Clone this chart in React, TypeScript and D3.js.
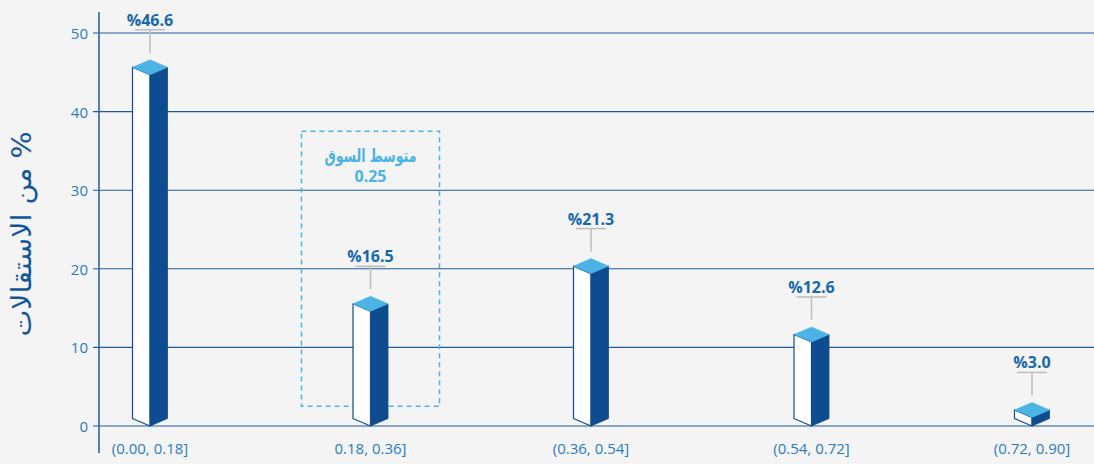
import React from "react";
import * as d3 from "d3";

const categories = ["(0.00, 0.18]", "0.18, 0.36]", "(0.36, 0.54]", "(0.54, 0.72]", "(0.72, 0.90]"];
const values = [46.6, 16.5, 21.3, 12.6, 3.0];
const yTicks = [0, 10, 20, 30, 40, 50];
const yTitle = "% من الاستقالات";
const marketLabel = "متوسط السوق";
const marketValue = "0.25";
const marketCategory = "0.18, 0.36]";

const W = 1094;
const H = 464;

export default function App() {
  const y = d3.scaleLinear().domain([0, 50]).range([426, 33]);
  const x = d3.scalePoint<string>().domain(categories).range([150, 1032]);
  const hw = 17.5;
  const dy = 7.5;
  const base = y(0);
  const dark = "#0f4c8f";
  const light = "#4cb3e5";
  const gridColor = "#1f5b9c";
  const tickColor = "#2b7bbf";
  const labelColor = "#1767ad";
  const font = "'Open Sans', 'DejaVu Sans', sans-serif";
  const arFont = "'DejaVu Sans', 'Noto Sans', sans-serif";

  const mx = x(marketCategory) as number;

  return (
    <svg
      width={W}
      height={H}
      style={{ position: "absolute", left: 0, top: 0, display: "block" }}
    >
      <rect x={0} y={0} width={W} height={H} fill="#f4f4f4" />
      {/* gridlines */}
      {yTicks.map((t) => (
        <g key={t}>
          <line x1={93} x2={W} y1={y(t)} y2={y(t)} stroke={gridColor} strokeWidth={1.1} />
          <text
            x={88}
            y={y(t)}
            textAnchor="end"
            dominantBaseline="central"
            fontFamily={font}
            fontSize={15}
            fill={tickColor}
          >
            {t}
          </text>
        </g>
      ))}
      {/* y axis */}
      <line x1={99} x2={99} y1={12} y2={453} stroke="#2a64a3" strokeWidth={1.6} />
      {/* y title */}
      <text
        transform={`translate(21, 234) rotate(-90)`}
        textAnchor="middle"
        dominantBaseline="central"
        direction="rtl"
        fontFamily={arFont}
        fontSize={27}
        textLength={205}
        lengthAdjust="spacingAndGlyphs"
        fill="#13569c"
      >
        {yTitle}
      </text>
      {/* market average box */}
      <rect
        x={mx - 69}
        y={y(37.5)}
        width={138}
        height={y(2.5) - y(37.5)}
        fill="none"
        stroke="#4db3e6"
        strokeWidth={1.5}
        strokeDasharray="5 4"
      />
      <text
        x={mx}
        y={155}
        textAnchor="middle"
        dominantBaseline="central"
        direction="rtl"
        fontFamily={arFont}
        fontWeight="bold"
        fontSize={18}
        textLength={92}
        lengthAdjust="spacingAndGlyphs"
        fill="#4ab3e6"
      >
        {marketLabel}
      </text>
      <text
        x={mx}
        y={176}
        textAnchor="middle"
        dominantBaseline="central"
        fontFamily={font}
        fontWeight="bold"
        fontSize={16}
        fill="#4ab3e6"
      >
        {marketValue}
      </text>
      {/* bars */}
      {categories.map((c, i) => {
        const cx = x(c) as number;
        const top = y(values[i]);
        const left = [
          [cx - hw, top + dy],
          [cx, top + 2 * dy],
          [cx, base],
          [cx - hw, base - dy],
        ];
        const right = [
          [cx, top + 2 * dy],
          [cx + hw, top + dy],
          [cx + hw, base - dy],
          [cx, base],
        ];
        const topFace = [
          [cx, top],
          [cx + hw, top + dy],
          [cx, top + 2 * dy],
          [cx - hw, top + dy],
        ];
        const pts = (p: number[][]) => p.map((q) => q.join(",")).join(" ");
        return (
          <g key={c}>
            <polygon points={pts(left)} fill="#ffffff" stroke={dark} strokeWidth={1.2} strokeLinejoin="round" />
            <polygon points={pts(right)} fill={dark} stroke={dark} strokeWidth={0.8} />
            <polygon points={pts(topFace)} fill={light} stroke={light} strokeWidth={0.5} />
            <line x1={cx - 15} x2={cx + 15} y1={top - 30} y2={top - 30} stroke="#bdbdbd" strokeWidth={1.5} />
            <line x1={cx} x2={cx} y1={top - 30} y2={top - 7} stroke="#bdbdbd" strokeWidth={1.5} />
            <text
              x={cx}
              y={top - 34}
              textAnchor="middle"
              fontFamily={font}
              fontWeight="bold"
              fontSize={16}
              fill={labelColor}
            >
              {"%" + values[i].toFixed(1)}
            </text>
            <text
              x={cx}
              y={448}
              textAnchor="middle"
              dominantBaseline="central"
              fontFamily={font}
              fontSize={15}
              fill={tickColor}
            >
              {c}
            </text>
          </g>
        );
      })}
    </svg>
  );
}
